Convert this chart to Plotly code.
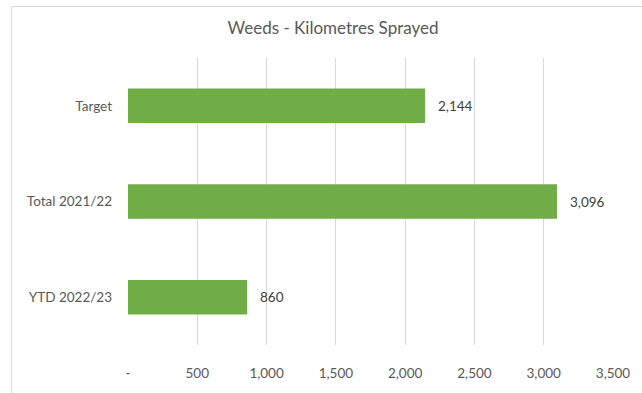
import plotly.graph_objects as go

# Kilometres sprayed for weed control
categories = ["Target", "Total 2021/22", "YTD 2022/23"]
km_sprayed = [2144, 3096, 860]

# Axis ticks
tick_values = [0, 500, 1000, 1500, 2000, 2500, 3000, 3500]
tick_labels = ["-", "500", "1,000", "1,500", "2,000", "2,500", "3,000", "3,500"]

FONT = "Lato, 'Open Sans', sans-serif"
GREY = "#595959"

fig = go.Figure(
    go.Bar(
        x=km_sprayed,
        y=categories,
        orientation="h",
        marker=dict(color="#70AD47", line=dict(width=0)),
        hoverinfo="skip",
    )
)

# Value labels just past the end of each bar
for cat, val in zip(categories, km_sprayed):
    fig.add_annotation(
        x=val, y=cat, xref="x", yref="y",
        text=f"{val:,}", showarrow=False,
        xanchor="left", xshift=11,
        font=dict(family=FONT, size=13.5, color="#404040"),
    )

W, H = 642, 393
L, R, T, B = 128, 22, 58, 34
pw, ph = W - L - R, H - T - B

# Chart frame
fig.add_shape(
    type="rect", xref="paper", yref="paper",
    x0=(10 - L) / pw, x1=1 + (R + 30) / pw,
    y0=-(B + 30) / ph, y1=1 + (T - 4) / ph,
    line=dict(color="#D9D9D9", width=1), fillcolor="rgba(0,0,0,0)",
    layer="below",
)

fig.update_layout(
    width=W, height=H,
    margin=dict(l=L, r=R, t=T, b=B),
    paper_bgcolor="white", plot_bgcolor="white",
    bargap=0.64,
    showlegend=False,
    font=dict(family=FONT, size=13.5, color=GREY),
    title=dict(
        text="Weeds - Kilometres Sprayed",
        x=(336 - L) / pw, xref="paper", xanchor="center",
        y=1 - 28 / H, yref="container", yanchor="middle",
        font=dict(family=FONT, size=17, color=GREY),
    ),
    xaxis=dict(
        range=[0, 3500],
        tickvals=tick_values, ticktext=tick_labels,
        showgrid=True, gridcolor="#D9D9D9", gridwidth=1,
        zeroline=False, showline=False, ticks="",
        ticklabelstandoff=18,
        tickfont=dict(family=FONT, size=13.5, color=GREY),
        fixedrange=True,
    ),
    yaxis=dict(
        autorange="reversed",
        showgrid=False, zeroline=False, showline=False, ticks="",
        ticklabelstandoff=15,
        tickfont=dict(family=FONT, size=13.5, color=GREY),
        fixedrange=True,
    ),
)

fig.write_html("out.html")
